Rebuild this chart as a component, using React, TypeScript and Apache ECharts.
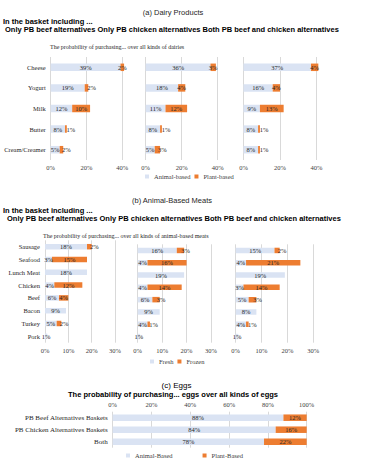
import React, { useEffect, useRef } from "react";
import * as echarts from "echarts";

const dairyCategories = ["Cheese", "Yogurt", "Milk", "Butter", "Cream/Creamer"];
const dairyAnimal = [
  [39, 19, 12, 8, 5],
  [36, 18, 11, 8, 5],
  [37, 16, 9, 8, 8],
];
const dairyPlant = [
  [2, 2, 10, 1, 2],
  [3, 4, 12, 1, 3],
  [4, 4, 13, 1, 1],
];
const meatCategories = ["Sausage", "Seafood", "Lunch Meat", "Chicken", "Beef", "Bacon", "Turkey", "Pork"];
const meatFresh = [
  [18, 3, 18, 4, 6, 9, 5, 1],
  [16, 4, 19, 4, 6, 9, 4, 1],
  [15, 4, 19, 3, 5, 8, 4, 1],
];
const meatFrozen = [
  [2, 15, 0, 12, 4, 0, 2, 0],
  [3, 16, 0, 14, 3, 0, 1, 0],
  [2, 21, 0, 14, 3, 0, 1, 0],
];
const eggCategories = ["PB Beef Alternatives Baskets", "PB Chicken Alternatives Baskets", "Both"];
const eggAnimal = [88, 84, 78];
const eggPlant = [12, 16, 22];

const LIGHT = "#dae3f3";
const ORANGE = "#ed7d31";
const GRIDC = "#d9d9d9";
const SERIF = "Liberation Serif";
const SANS = "Liberation Sans";

export default function App() {
  const ref = useRef<HTMLDivElement>(null);
  useEffect(() => {
    if (!ref.current) return;
    const chart = echarts.init(ref.current, null, { renderer: "svg" });

    const grids: any[] = [];
    const xAxes: any[] = [];
    const yAxes: any[] = [];
    const series: any[] = [];

    const label = {
      show: true,
      position: "inside",
      fontFamily: SERIF,
      fontSize: 6.5,
      color: "#262626",
      formatter: (p: any) => (p.value ? p.value + "%" : ""),
    };

    const addPanel = (
      g: any,
      cats: string[],
      max: number,
      interval: number,
      a: number[],
      b: number[],
      nameA: string,
      nameB: string,
      barWidth: number,
      showCats: boolean,
      top: boolean,
      catSize: number
    ) => {
      const idx = grids.length;
      grids.push(g);
      xAxes.push({
        type: "value",
        gridIndex: idx,
        min: 0,
        max,
        interval,
        position: top ? "top" : "bottom",
        axisLine: { show: false },
        axisTick: { show: false },
        splitLine: { show: true, lineStyle: { color: GRIDC, width: 1 } },
        axisLabel: {
          fontFamily: SERIF,
          fontSize: 6.5,
          color: "#404040",
          margin: 4,
          formatter: (v: number) => v + "%",
        },
      });
      yAxes.push({
        type: "category",
        gridIndex: idx,
        data: cats,
        inverse: true,
        axisLine: { show: false },
        axisTick: { show: false },
        axisLabel: {
          show: showCats,
          fontFamily: SERIF,
          fontSize: catSize,
          color: "#262626",
          margin: 5,
        },
      });
      series.push({
        type: "bar",
        name: nameA,
        xAxisIndex: idx,
        yAxisIndex: idx,
        stack: "s" + idx,
        data: a,
        barWidth,
        clip: false,
        itemStyle: { color: LIGHT },
        label,
      });
      series.push({
        type: "bar",
        name: nameB,
        xAxisIndex: idx,
        yAxisIndex: idx,
        stack: "s" + idx,
        data: b.map((v, j) => {
          const small = v > 0 && v <= 3 && (a[j] + v) / max < 0.95;
          return small ? { value: v, label: { offset: [5, 0] } } : v;
        }),
        barWidth,
        clip: false,
        itemStyle: { color: ORANGE },
        label,
      });
    };

    const dairyGrids = [
      { left: 50.7, width: 71.6 },
      { left: 145.7, width: 72 },
      { left: 243.5, width: 73 },
    ];
    dairyGrids.forEach((d, i) =>
      addPanel(
        { left: d.left, width: d.width, top: 57, height: 103 },
        dairyCategories,
        40,
        20,
        dairyAnimal[i],
        dairyPlant[i],
        "Animal-based",
        "Plant-based",
        7.5,
        i === 0,
        false,
        6.5
      )
    );

    const meatGrids = [
      { left: 45, width: 70, top: 240.3, height: 102.4 },
      { left: 137.7, width: 73.3, top: 244.3, height: 98.4 },
      { left: 235.7, width: 77.6, top: 244.3, height: 98.4 },
    ];
    meatGrids.forEach((d, i) =>
      addPanel(
        { left: d.left, width: d.width, top: d.top, height: d.height },
        meatCategories,
        30,
        10,
        meatFresh[i],
        meatFrozen[i],
        "Fresh",
        "Frozen",
        5.5,
        i === 0,
        false,
        6.5
      )
    );

    addPanel(
      { left: 112.7, width: 194, top: 411.7, height: 36 },
      eggCategories,
      100,
      20,
      eggAnimal,
      eggPlant,
      "Animal-Based",
      "Plant-Based",
      6.5,
      true,
      true,
      7
    );

    const txt = (text: string, x: number, y: number, font: string, align: string, fill = "#000") => ({
      type: "text",
      x,
      y,
      silent: true,
      style: { text, font, fill, textAlign: align, textVerticalAlign: "middle" },
    });

    const legendText = { fontFamily: SERIF, fontSize: 6.5, color: "#404040" };

    chart.setOption({
      animation: false,
      backgroundColor: "#fff",
      grid: grids,
      xAxis: xAxes,
      yAxis: yAxes,
      series,
      legend: [
        {
          data: ["Animal-based", "Plant-based"],
          left: 145,
          top: 173,
          icon: "rect",
          itemWidth: 4,
          itemHeight: 4,
          itemGap: 4,
          padding: 0,
          selectedMode: false,
          textStyle: legendText,
        },
        {
          data: ["Fresh", "Frozen"],
          left: 150,
          top: 358,
          icon: "rect",
          itemWidth: 4,
          itemHeight: 4,
          itemGap: 4,
          padding: 0,
          selectedMode: false,
          textStyle: legendText,
        },
        {
          data: ["Animal-Based", "Plant-Based"],
          left: 126,
          top: 452,
          icon: "rect",
          itemWidth: 4,
          itemHeight: 4,
          itemGap: 30,
          padding: 0,
          selectedMode: false,
          textStyle: legendText,
        },
      ],
      graphic: [
        txt("(a) Dairy Products", 173, 12, `7.5px "${SANS}"`, "center", "#262626"),
        txt("In the basket including ...", 3, 21, `bold 7.5px "${SANS}"`, "left"),
        txt(
          "Only PB beef alternatives Only PB chicken alternatives Both PB beef and chicken alternatives",
          5,
          29.5,
          `bold 7.5px "${SANS}"`,
          "left"
        ),
        txt("The probability of purchasing... over all kinds of dairies", 50, 47, `6px "${SERIF}"`, "left", "#262626"),
        txt("(b) Animal-Based Meats", 172, 200, `7.5px "${SANS}"`, "center", "#262626"),
        txt("In the basket including ...", 3, 210.5, `bold 7.5px "${SANS}"`, "left"),
        txt(
          "Only PB beef alternatives Only PB chicken alternatives Both PB beef and chicken alternatives",
          7,
          218.5,
          `bold 7.5px "${SANS}"`,
          "left"
        ),
        txt(
          "The probability of purchasing... over all kinds of animal-based meats",
          43,
          235.5,
          `6px "${SERIF}"`,
          "left",
          "#262626"
        ),
        txt("(c) Eggs", 176.5, 385, `8px "${SANS}"`, "center", "#000"),
        txt(
          "The probability of purchasing... eggs over all kinds of eggs",
          173,
          394.5,
          `bold 7.5px "${SANS}"`,
          "center"
        ),
      ],
    });
    return () => chart.dispose();
  }, []);
  return <div ref={ref} style={{ position: "absolute", left: 0, top: 0, width: 375, height: 466 }} />;
}
